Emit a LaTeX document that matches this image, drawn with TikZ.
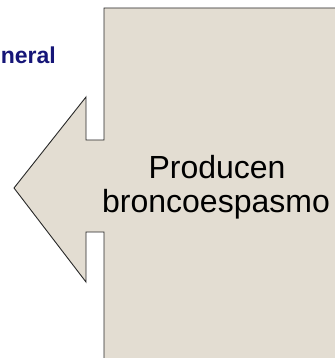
\documentclass[tikz,border=0pt]{standalone}
\usepackage{fontspec}
\setmainfont{Liberation Sans}
\definecolor{stone}{RGB}{227,221,210}
\definecolor{navytext}{RGB}{22,22,120}
\definecolor{edge}{RGB}{40,40,40}
\tikzset{
  callout/.style={fill=stone, draw=edge, line width=0.9pt, line join=miter},
  maintext/.style={font=\fontsize{32}{34}\selectfont, align=center, text=black, inner sep=0pt},
  titletext/.style={font=\fontsize{23}{26}\selectfont\bfseries, text=navytext, inner sep=0pt}
}
\begin{document}
\begin{tikzpicture}[x=1pt,y=-1pt]
\useasboundingbox (0,0) rectangle (334,358);
\fill[white] (0,0) rectangle (334,358);
% callout shape
\path[callout] (340,8) -- (104,8) -- (104,140) -- (86,140) -- (86,97) -- (14,188)
  -- (86,282) -- (86,232) -- (104,232) -- (104,365) -- (340,365);
\node[maintext, anchor=base] (t1) at (217,178) {Producen};
\node[maintext, anchor=base] (t2) at (216,212) {broncoespasmo};
\node[titletext, anchor=base east] (title) at (56,64) {neral};
\end{tikzpicture}
\end{document}
